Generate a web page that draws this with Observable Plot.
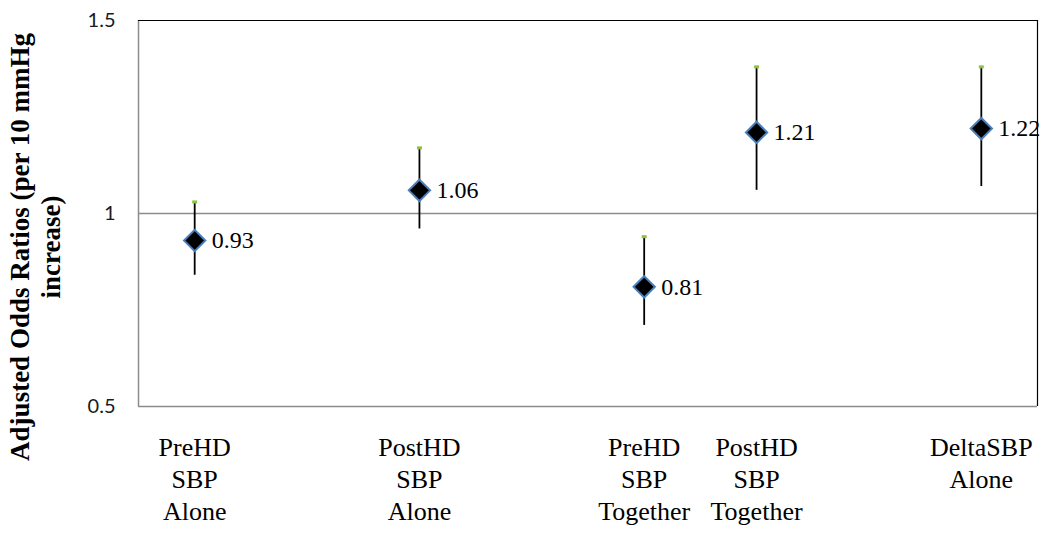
<!DOCTYPE html>
<html>
<head>
<meta charset="utf-8">
<script src="https://cdn.jsdelivr.net/npm/d3@7"></script>
<script src="https://cdn.jsdelivr.net/npm/@observablehq/plot@0.6"></script>
<style>
  html, body { margin: 0; padding: 0; background: #fff; }
  #chart svg { display: block; }
  #chart svg .serif, #chart svg .serif text { font-family: "Liberation Serif", "Times New Roman", serif; }
  #chart svg .sans, #chart svg .sans text { font-family: Lato, "Liberation Sans", sans-serif; }
</style>
</head>
<body>
<div id="chart"></div>
<script>
// ---- data ----
const categories = ["PreHD\nSBP\nAlone", "PostHD\nSBP\nAlone", "PreHD\nSBP\nTogether", "PostHD\nSBP\nTogether", "DeltaSBP\nAlone"];
const positions = [0.5, 2.5, 4.5, 5.5, 7.5];
const oddsRatios = [0.93, 1.06, 0.81, 1.21, 1.22];
const lowerCI = [0.84, 0.96, 0.71, 1.06, 1.07];
const upperCI = [1.03, 1.17, 0.94, 1.38, 1.38];
const yTicks = [0.5, 1, 1.5];
const yDomain = [0.5, 1.5];
const xDomain = [0, 8];
const yTitle = "Adjusted Odds Ratios (per 10 mmHg\nincrease)";

const rows = categories.map((c, i) => ({
  cat: c, x: positions[i], or: oddsRatios[i], lo: lowerCI[i], hi: upperCI[i]
}));

const capSymbol = { draw(ctx) { ctx.rect(-2.5, -1.5, 5, 3); } };
const serif = "Liberation Serif, Times New Roman, serif";

const chart = Plot.plot({
  width: 1050,
  height: 535,
  marginLeft: 138,
  marginRight: 13,
  marginTop: 20,
  marginBottom: 129,
  style: { background: "#fff", overflow: "visible" },
  x: { domain: xDomain, axis: null },
  y: { domain: yDomain, axis: null },
  marks: [
    // frame
    Plot.ruleY([yDomain[0]], { stroke: "#8c8c8c", strokeWidth: 1.5 }),
    Plot.ruleX([xDomain[0]], { stroke: "#8c8c8c", strokeWidth: 1.5 }),
    Plot.ruleY([yDomain[1]], { stroke: "#000", strokeWidth: 1.2 }),
    Plot.ruleX([xDomain[1]], { stroke: "#000", strokeWidth: 1.2 }),
    // gridline at 1
    Plot.ruleY([1], { stroke: "#8c8c8c", strokeWidth: 1.5 }),
    // y axis
    Plot.axisY({
      ticks: yTicks, tickSize: 0, tickPadding: 23, label: null, tickFormat: d => String(d),
      fontSize: 20, fontFamily: "Lato, Liberation Sans, sans-serif", fill: "#1a1a1a", className: "sans"
    }),
    // y title
    Plot.text([yTitle], {
      frameAnchor: "left", rotate: -90, dx: -104, dy: 33.5,
      fontSize: 27, fontWeight: "bold", fontFamily: serif, lineHeight: 1.15,
      textAnchor: "middle", lineAnchor: "middle", fill: "#000", className: "serif"
    }),
    // category labels
    Plot.text(rows, {
      x: "x", text: "cat", frameAnchor: "bottom", lineAnchor: "top", dy: 26.5,
      fontSize: 26, fontFamily: serif, lineHeight: 1.23, fill: "#000", className: "serif"
    }),
    // CI whiskers
    Plot.ruleX(rows, { x: "x", y1: "lo", y2: "hi", stroke: "#000", strokeWidth: 1.8 }),
    // top caps
    Plot.dot(rows, { x: "x", y: "hi", symbol: capSymbol, r: 3, fill: "#8cc43c", stroke: "none" }),
    // point estimates
    Plot.dot(rows, { x: "x", y: "or", symbol: "diamond2", r: 9.6, fill: "#000", stroke: "#4a7ebb", strokeWidth: 2 }),
    // value labels
    Plot.text(rows, {
      x: "x", y: "or", text: d => d.or.toFixed(2), dx: 17, textAnchor: "start",
      fontSize: 24, fontFamily: serif, fill: "#000", className: "serif"
    })
  ]
});

document.getElementById("chart").appendChild(chart);
</script>
</body>
</html>
